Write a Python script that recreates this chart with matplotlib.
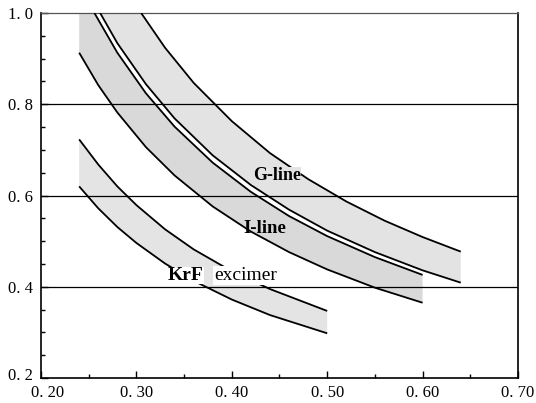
import matplotlib
matplotlib.use("Agg")
import matplotlib.pyplot as plt
import matplotlib.transforms as mtransforms
from matplotlib.ticker import MultipleLocator, FixedLocator, FixedFormatter

# ---- values (x = NA, y = resolution) ----
gline_upper_x = [0.305, 0.33, 0.36, 0.40, 0.44, 0.48, 0.52, 0.56, 0.60, 0.64]
gline_upper_y = [1.000, 0.924, 0.847, 0.763, 0.693, 0.636, 0.587, 0.545, 0.509, 0.477]

gline_lower_x = [0.262, 0.28, 0.31, 0.34, 0.38, 0.42, 0.46, 0.50, 0.55, 0.60, 0.64]
gline_lower_y = [1.000, 0.934, 0.844, 0.769, 0.688, 0.623, 0.569, 0.523, 0.476, 0.436, 0.409]

iline_upper_x = [0.256, 0.28, 0.31, 0.34, 0.38, 0.42, 0.46, 0.50, 0.55, 0.60]
iline_upper_y = [1.000, 0.913, 0.824, 0.751, 0.672, 0.608, 0.555, 0.511, 0.465, 0.426]

iline_lower_x = [0.24, 0.26, 0.28, 0.31, 0.34, 0.38, 0.42, 0.46, 0.50, 0.55, 0.60]
iline_lower_y = [0.913, 0.842, 0.782, 0.706, 0.644, 0.576, 0.521, 0.476, 0.438, 0.398, 0.365]

krf_upper_x = [0.24, 0.26, 0.28, 0.30, 0.33, 0.36, 0.40, 0.44, 0.50]
krf_upper_y = [0.723, 0.668, 0.620, 0.579, 0.526, 0.482, 0.434, 0.395, 0.347]

krf_lower_x = [0.24, 0.26, 0.28, 0.30, 0.33, 0.36, 0.40, 0.44, 0.50]
krf_lower_y = [0.620, 0.572, 0.531, 0.496, 0.451, 0.413, 0.372, 0.338, 0.298]

x_ticks = [0.20, 0.30, 0.40, 0.50, 0.60, 0.70]
x_labels = ["0. 20", "0. 30", "0. 40", "0. 50", "0. 60", "0. 70"]
y_ticks = [0.2, 0.4, 0.6, 0.8, 1.0]
y_labels = ["0. 2", "0. 4", "0. 6", "0. 8", "1. 0"]
grid_levels = [0.4, 0.6, 0.8]

serif = ["Liberation Serif", "DejaVu Serif"]

fig = plt.figure(figsize=(5.36, 4.03), dpi=100)
ax = fig.add_axes([0.0765, 0.062, 0.8899, 0.9057])
ax.set_xlim(0.20, 0.70)
ax.set_ylim(0.2, 1.0)

# ---- shaded bands (polygons built from the curves) ----
g_poly_x = gline_lower_x + gline_upper_x[::-1]
g_poly_y = gline_lower_y + gline_upper_y[::-1]
ax.fill(g_poly_x, g_poly_y, facecolor="#e3e3e3", edgecolor="none", zorder=1)

i_poly_x = [iline_lower_x[0]] + iline_upper_x + iline_lower_x[::-1]
i_poly_y = [1.0] + iline_upper_y + iline_lower_y[::-1]
ax.fill(i_poly_x, i_poly_y, facecolor="#d9d9d9", edgecolor="none", zorder=1)

k_poly_x = krf_lower_x + krf_upper_x[::-1]
k_poly_y = krf_lower_y + krf_upper_y[::-1]
ax.fill(k_poly_x, k_poly_y, facecolor="#e4e4e4", edgecolor="none", zorder=1)

# grid lines
for g in grid_levels:
    ax.axhline(g, color="black", lw=0.9, zorder=2)

# curves
for xs, ys in [(krf_upper_x, krf_upper_y), (krf_lower_x, krf_lower_y),
               (iline_lower_x, iline_lower_y), (iline_upper_x, iline_upper_y),
               (gline_lower_x, gline_lower_y), (gline_upper_x, gline_upper_y)]:
    ax.plot(xs, ys, color="black", lw=1.3, zorder=3, solid_capstyle="butt")

# labels
ax.text(0.422, 0.633, "G-line", fontsize=13, fontweight="bold",
        family=serif, zorder=4, va="baseline",
        bbox=dict(facecolor="#e3e3e3", edgecolor="none", pad=0.3))
ax.text(0.412, 0.518, "I-line", fontsize=13.5, fontweight="bold",
        family=serif, zorder=4, va="baseline")
ax.text(0.333, 0.415, "KrF", fontsize=14, fontweight="bold",
        family=serif, zorder=4, va="baseline",
        bbox=dict(facecolor="white", edgecolor="none", pad=0.3))
ax.text(0.382, 0.415, "excimer", fontsize=14,
        family=serif, zorder=4, va="baseline",
        bbox=dict(facecolor="white", edgecolor="none", pad=0.8))

# axes styling
ax.xaxis.set_major_locator(FixedLocator(x_ticks))
ax.xaxis.set_major_formatter(FixedFormatter(x_labels))
ax.yaxis.set_major_locator(FixedLocator(y_ticks))
ax.yaxis.set_major_formatter(FixedFormatter(y_labels))
ax.xaxis.set_minor_locator(MultipleLocator(0.05))
ax.yaxis.set_minor_locator(MultipleLocator(0.05))
ax.tick_params(which="both", direction="in", top=False, right=False)
ax.tick_params(which="major", length=5, width=1)
ax.tick_params(which="minor", length=3, width=1)
ax.tick_params(axis="x", pad=5)
ax.tick_params(axis="y", pad=6)
for lab in ax.get_xticklabels() + ax.get_yticklabels():
    lab.set_family(serif)
    lab.set_fontsize(12)

# nudge the corner labels apart as in the reference
fig.canvas.draw()
ylabs = ax.get_yticklabels()
up = mtransforms.ScaledTranslation(0, 4 / 100, fig.dpi_scale_trans)
ylabs[0].set_transform(ylabs[0].get_transform() + up)
xlabs = ax.get_xticklabels()
right = mtransforms.ScaledTranslation(7 / 100, 0, fig.dpi_scale_trans)
xlabs[0].set_transform(xlabs[0].get_transform() + right)

for s in ["left", "bottom", "right"]:
    ax.spines[s].set_linewidth(1.2)
ax.spines["top"].set_linewidth(0.9)
ax.spines["top"].set_color("#555555")

fig.savefig("out.png", dpi=100)
